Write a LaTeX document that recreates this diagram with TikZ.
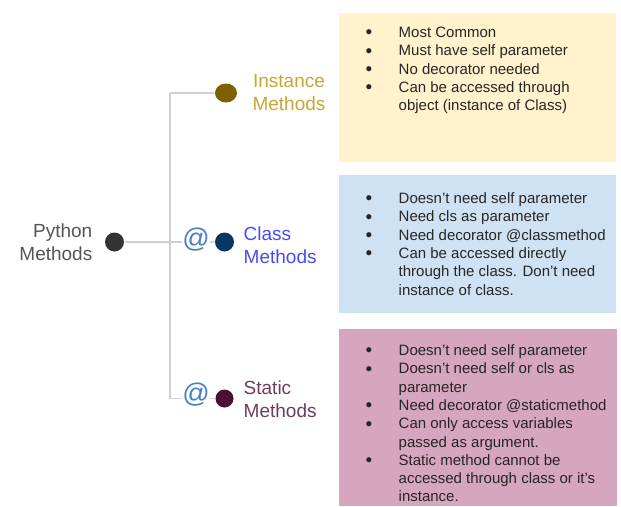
\documentclass[tikz,border=0pt]{standalone}
\usepackage{fontspec}
\setmainfont{Liberation Sans}
\usetikzlibrary{shapes.geometric}

\definecolor{rootdot}{HTML}{333333}
\definecolor{roottext}{HTML}{555555}
\definecolor{branch}{HTML}{D0D0D0}
\definecolor{instdot}{HTML}{7F6000}
\definecolor{insttext}{HTML}{C9A633}
\definecolor{classdot}{HTML}{073763}
\definecolor{classtext}{HTML}{4A4AF4}
\definecolor{statdot}{HTML}{4C1130}
\definecolor{stattext}{HTML}{6F3C5B}
\definecolor{attext}{HTML}{4A7FC4}
\definecolor{instbox}{HTML}{FFF2CC}
\definecolor{classbox}{HTML}{CFE2F3}
\definecolor{statbox}{HTML}{D5A6BD}
\definecolor{notetext}{HTML}{262626}

\newcommand{\notebul}{\raisebox{-1.4pt}[0pt][0pt]{\fontsize{19}{18.3}\selectfont\textbullet}}

\tikzset{
  dot/.style={shape=circle, inner sep=0pt, minimum size=19pt},
  label/.style={inner sep=0pt, font=\fontsize{19}{22.5}\selectfont},
  atsign/.style={inner sep=0pt, fill=white, text=attext, font=\fontsize{27}{27}\selectfont},
  notes/.style={anchor=north west, inner sep=0pt, text=notetext, font=\fontsize{15}{18.3}\selectfont},
}

\begin{document}
\begin{tikzpicture}
            [x=1pt, y=-1pt, line width=1.4pt]
            \useasboundingbox (0, 0) rectangle (621, 506);

            % note boxes
            \fill[instbox] (339, 13) rectangle (616, 162);
            \fill[classbox] (339, 175) rectangle (616, 313);
            \fill[statbox] (339, 329) rectangle (617, 506);

            \node[dot, fill=rootdot] (root) at (114.5, 242) {};
            \node[label, text=roottext, align=right, anchor=east] (roottxt) at (93, 242) {Python\\Methods};

            \coordinate (hubtop) at (170, 93);
            \coordinate (hubbot) at (170, 398.5);
            \node[shape=ellipse, inner sep=0pt, minimum width=22pt, minimum height=19pt, fill=instdot] (inst) at (226, 93) {};
            \node[dot, fill=classdot] (cls) at (224.5, 242) {};
            \node[dot, minimum size=18pt, fill=statdot] (stat) at (224.5, 398.5) {};

            \draw[branch] (hubtop) -- (hubbot);
            \draw[branch] (hubtop) -- (inst);
            \draw[branch] (root) -- (cls);
            \draw[branch] (hubbot) -- (stat);

            \node[atsign] (clsat) at (196, 240) {@};
            \node[atsign] (statat) at (196, 395) {@};

            % base anchor sits on the last line
            \node[label, text=insttext, align=center, anchor=base] (insttxt) at (289, 110) {Instance\\Methods};
            \node[label, text=classtext, align=left, anchor=base west] (clstxt) at (243, 263) {Class\\Methods};
            \node[label, text=stattext, align=left, anchor=base west] (stattxt) at (243, 417) {Static\\Methods};

            \node[notes] (instnotes) at (365, 24) {\begin{tabular}{@{}p{33pt}@{}l@{}}
              \notebul & Most Common\\
              \notebul & Must have self parameter\\
              \notebul & No decorator needed\\
              \notebul & Can be accessed through\\
                       & object (instance of Class)
            \end{tabular}};
            \node[notes] (clsnotes) at (365, 190) {\begin{tabular}{@{}p{33pt}@{}l@{}}
              \notebul & Doesn't need self parameter\\
              \notebul & Need cls as parameter\\
              \notebul & Need decorator @classmethod\\
              \notebul & Can be accessed directly\\
                       & through the class. Don't need\\
                       & instance of class.
            \end{tabular}};
            \node[notes] (statnotes) at (365, 342) {\begin{tabular}{@{}p{33pt}@{}l@{}}
              \notebul & Doesn't need self parameter\\
              \notebul & Doesn't need self or cls as\\
                       & parameter\\
              \notebul & Need decorator @staticmethod\\
              \notebul & Can only access variables\\
                       & passed as argument.\\
              \notebul & Static method cannot be\\
                       & accessed through class or it's\\
                       & instance.
            \end{tabular}};
        \end{tikzpicture}
\end{document}
